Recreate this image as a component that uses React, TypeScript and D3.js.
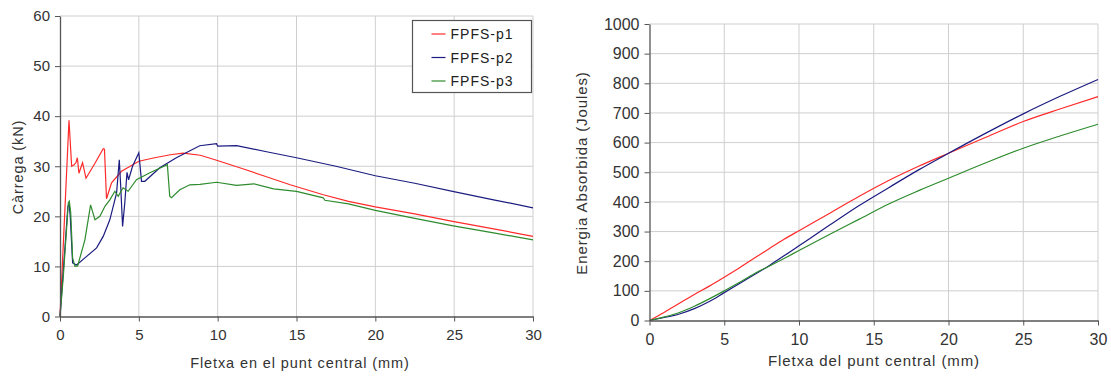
import * as d3 from "d3";
import { useEffect, useRef } from "react";

// load vs deflection (left chart)
const p1Fletxa = [0, 0.57, 0.74, 0.9, 1.02, 1.1, 1.2, 1.43, 1.65, 2.2, 2.74, 2.82, 2.95, 3.27, 3.9, 5.0, 6.0, 7.0, 7.8, 8.9, 9.93, 11.4, 13.0, 14.6, 16.7, 18.3, 20.0, 22.5, 24.9, 27.5, 30.0];
const p1Carrega = [0, 39.2, 30, 30.3, 30.8, 31.7, 28.6, 30.7, 27.6, 30.5, 33.5, 33.4, 23.5, 26.7, 29, 31.0, 31.7, 32.3, 32.6, 32.2, 31.2, 29.7, 28.0, 26.3, 24.3, 23.0, 21.9, 20.5, 19.0, 17.5, 16.0];

const p2Fletxa = [0, 0.32, 0.5, 0.58, 0.65, 0.8, 1.05, 1.69, 2.32, 2.74, 3.16, 3.59, 3.76, 3.85, 3.97, 4.11, 4.25, 4.35, 4.6, 5.0, 5.17, 5.38, 6.33, 7.38, 8.86, 9.93, 10.0, 11.2, 13.1, 15.0, 17.5, 20.0, 22.5, 24.9, 27.5, 30];
const p2Carrega = [0, 14, 22, 22.5, 20, 10.7, 10.3, 12, 13.7, 16, 19.3, 24.7, 31.3, 26, 18, 22.7, 28.8, 27.3, 30, 32.7, 27, 27, 29.7, 31.7, 34.1, 34.5, 34.0, 34.1, 32.9, 31.7, 30, 28.1, 26.6, 25.0, 23.3, 21.7];

const p3Fletxa = [0, 0.21, 0.53, 0.59, 0.68, 0.8, 0.95, 1.12, 1.58, 1.94, 2.22, 2.53, 2.85, 3.16, 3.48, 3.69, 4.0, 4.32, 4.85, 5.7, 6.81, 6.96, 7.07, 7.6, 8.23, 8.88, 9.93, 11.2, 12.3, 13.55, 15.0, 16.7, 16.8, 18.3, 20, 22.5, 24.94, 27.5, 30];
const p3Carrega = [0, 8, 22.7, 23, 20.7, 11.7, 10, 10.1, 15.3, 22.3, 19.3, 20, 22, 23.3, 25, 24, 25.7, 25, 27.3, 28.7, 30.3, 24, 23.7, 25.3, 26.3, 26.4, 26.8, 26.2, 26.5, 25.5, 25.0, 23.7, 23.2, 22.5, 21.2, 19.6, 18.1, 16.7, 15.3];

// absorbed energy (right chart)
const energiaFletxa = [0, 1, 2, 3, 4, 5, 6, 7, 8, 9, 10, 12, 14, 16, 18, 20, 22.5, 25, 27.5, 30];
const p1Energia = [0, 28, 58, 88, 116, 146, 177, 210, 242, 274, 303, 360, 418, 472, 520, 564, 618, 671, 714, 755];
const p2Energia = [0, 10, 22, 40, 64, 94, 124, 154, 185, 218, 252, 320, 387, 448, 508, 564, 632, 697, 757, 813];
const p3Energia = [0, 12, 27, 48, 73, 100, 128, 158, 183, 209, 236, 289, 341, 393, 438, 480, 532, 581, 623, 662];

const seriesNames = ["FPFS-p1", "FPFS-p2", "FPFS-p3"];
const seriesColors = ["#ff2a2a", "#1c1c80", "#2e8b2e"];

const xTicks = [0, 5, 10, 15, 20, 25, 30];
const loadTicks = [0, 10, 20, 30, 40, 50, 60];
const energyTicks = [0, 100, 200, 300, 400, 500, 600, 700, 800, 900, 1000];

const FONT = "'Liberation Sans', Arial, sans-serif";

type Pt = [number, number];
const zip = (xs: number[], ys: number[]): Pt[] => xs.map((x, i) => [x, ys[i]]);

function drawPanel(
  svg: d3.Selection<SVGSVGElement, unknown, null, undefined>,
  opts: {
    x0: number; x1: number; y0: number; y1: number;
    yMax: number; yTicks: number[]; series: Pt[][];
    curve: d3.CurveFactory; tickSize: number; titleSize: number;
    xTitle: string; xTitleX: number; xTitleY: number;
    yTitle: string; yTitleX: number; yTitleY: number;
  }
) {
  const x = d3.scaleLinear().domain([0, 30]).range([opts.x0, opts.x1]);
  const y = d3.scaleLinear().domain([0, opts.yMax]).range([opts.y1, opts.y0]);
  const g = svg.append("g");

  // grid
  g.append("g")
    .selectAll("line")
    .data(opts.yTicks.filter((t) => t > 0))
    .join("line")
    .attr("x1", opts.x0).attr("x2", opts.x1)
    .attr("y1", (d) => y(d)).attr("y2", (d) => y(d))
    .attr("stroke", "#cfcfcf").attr("stroke-width", 1);
  g.append("g")
    .selectAll("line")
    .data(xTicks.filter((t) => t > 0))
    .join("line")
    .attr("x1", (d) => x(d)).attr("x2", (d) => x(d))
    .attr("y1", opts.y0).attr("y2", opts.y1)
    .attr("stroke", "#cfcfcf").attr("stroke-width", 1);

  const line = d3.line<Pt>().x((d) => x(d[0])).y((d) => y(d[1])).curve(opts.curve);
  opts.series.forEach((s, i) => {
    g.append("path")
      .attr("d", line(s))
      .attr("fill", "none")
      .attr("stroke", seriesColors[i])
      .attr("stroke-width", 1.2);
  });

  const xAxis = g.append("g")
    .attr("transform", `translate(0,${opts.y1})`)
    .call(d3.axisBottom(x).tickValues(xTicks).tickFormat(d3.format("d")).tickSize(5).tickSizeOuter(0).tickPadding(8));
  const yAxis = g.append("g")
    .attr("transform", `translate(${opts.x0},0)`)
    .call(d3.axisLeft(y).tickValues(opts.yTicks).tickFormat(d3.format("d")).tickSize(5).tickSizeOuter(0).tickPadding(5));
  [xAxis, yAxis].forEach((a) => {
    a.select(".domain").attr("stroke", "#555").attr("stroke-width", 1.3);
    a.selectAll(".tick line").attr("stroke", "#555");
    a.selectAll("text")
      .attr("fill", "#333")
      .style("font-family", FONT)
      .style("font-size", `${opts.tickSize}px`);
  });

  g.append("text")
    .attr("x", opts.xTitleX).attr("y", opts.xTitleY)
    .attr("text-anchor", "middle")
    .attr("fill", "#333")
    .style("font-family", FONT).style("font-size", `${opts.titleSize}px`)
    .style("letter-spacing", "0.9px")
    .text(opts.xTitle);
  g.append("text")
    .attr("transform", `translate(${opts.yTitleX},${opts.yTitleY}) rotate(-90)`)
    .attr("text-anchor", "middle")
    .attr("fill", "#333")
    .style("font-family", FONT).style("font-size", `${opts.titleSize}px`)
    .style("letter-spacing", "0.9px")
    .text(opts.yTitle);
}

export default function App() {
  const ref = useRef<SVGSVGElement>(null);

  useEffect(() => {
    if (!ref.current) return;
    const svg = d3.select(ref.current);
    svg.selectAll("*").remove();

    drawPanel(svg, {
      x0: 60, x1: 533, y0: 16, y1: 316.5,
      yMax: 60, yTicks: loadTicks,
      series: [zip(p1Fletxa, p1Carrega), zip(p2Fletxa, p2Carrega), zip(p3Fletxa, p3Carrega)],
      curve: d3.curveLinear, tickSize: 15, titleSize: 14.5,
      xTitle: "Fletxa en el punt central (mm)", xTitleX: 300, xTitleY: 368,
      yTitle: "Càrrega (kN)", yTitleX: 23, yTitleY: 167,
    });

    drawPanel(svg, {
      x0: 649.5, x1: 1098, y0: 24, y1: 320.5,
      yMax: 1000, yTicks: energyTicks,
      series: [zip(energiaFletxa, p1Energia), zip(energiaFletxa, p2Energia), zip(energiaFletxa, p3Energia)],
      curve: d3.curveMonotoneX, tickSize: 16, titleSize: 15,
      xTitle: "Fletxa del punt central (mm)", xTitleX: 874, xTitleY: 366,
      yTitle: "Energia Absorbida (Joules)", yTitleX: 587, yTitleY: 173,
    });

    // legend
    const lg = svg.append("g").attr("transform", "translate(412.5,20.5)");
    lg.append("rect")
      .attr("width", 119).attr("height", 72)
      .attr("fill", "#fff").attr("stroke", "#555").attr("stroke-width", 1.2);
    seriesNames.forEach((name, i) => {
      const cy = 13.5 + i * 23.5;
      lg.append("line")
        .attr("x1", 19).attr("x2", 33).attr("y1", cy).attr("y2", cy)
        .attr("stroke", seriesColors[i]).attr("stroke-width", 1.2);
      lg.append("text")
        .attr("x", 38).attr("y", cy).attr("dy", "0.36em")
        .attr("fill", "#222")
        .style("font-family", FONT).style("font-size", "14px")
        .style("letter-spacing", "1px")
        .text(name);
    });
  }, []);

  return (
    <svg
      ref={ref}
      width={1111}
      height={381}
      style={{ position: "absolute", left: 0, top: 0, background: "#fff" }}
    />
  );
}
